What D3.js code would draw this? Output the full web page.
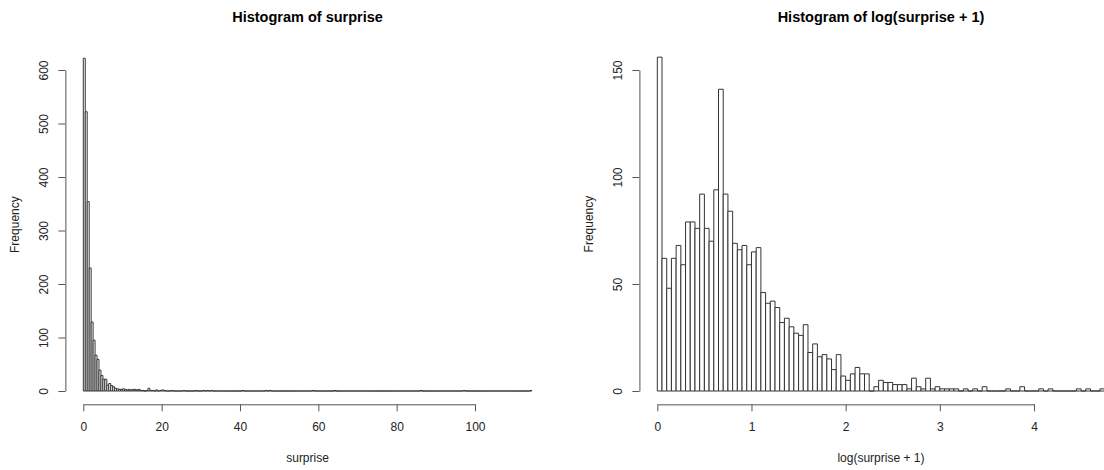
<!DOCTYPE html>
<html>
<head>
<meta charset="utf-8">
<script src="https://cdn.jsdelivr.net/npm/d3@7"></script>
<style>
  body { margin: 0; background: #fff; }
  svg { display: block; font-family: "Liberation Sans", Arial, sans-serif; }
  .tick text { font-size: 12px; fill: #222; }
  .axis path, .axis line { stroke: #555; stroke-width: 1; fill: none; }
  .bar { fill: #fff; stroke: #333; stroke-width: 1; }
  .title { font-size: 14.5px; font-weight: bold; fill: #000; }
  .label { font-size: 12px; fill: #222; }
</style>
</head>
<body>
<svg id="chart" width="1104" height="470"></svg>
<script>
// left histogram: surprise, bins of 0.5 from 0 to 114.5
const leftBinWidth = 0.5;
const leftCounts = [
  622, 522, 354, 230, 129, 95, 67, 59, 39, 29, 22, 22, 11, 14, 10, 8, 5, 4, 3, 3,
  4, 3, 2, 3, 2, 3, 3, 2, 3, 1, 1, 0, 1, 5, 1, 1, 0, 2, 0, 1,
  2, 1, 0, 0, 0, 1, 0, 0, 0, 0, 0, 1, 0, 0, 0, 0, 0, 1, 0, 0,
  0, 1, 0, 1, 0, 1, 0, 0, 0, 0, 0, 0, 0, 0, 0, 0, 0, 0, 0, 0,
  0, 1, 0, 0, 0, 0, 0, 0, 0, 0, 0, 0, 0, 1, 0, 1, 0, 0, 0, 0,
  0, 0, 0, 0, 0, 0, 0, 0, 0, 0, 0, 0, 0, 0, 0, 0, 0, 1, 0, 0,
  0, 0, 0, 0, 0, 0, 0, 0, 1, 0, 0, 0, 0, 0, 0, 0, 0, 0, 0, 0,
  0, 0, 0, 0, 0, 0, 0, 0, 0, 0, 0, 0, 0, 0, 0, 0, 0, 0, 0, 0,
  0, 0, 0, 0, 0, 0, 0, 0, 0, 0, 0, 0, 1, 0, 0, 0, 0, 0, 0, 0,
  0, 0, 0, 0, 0, 0, 0, 0, 0, 0, 0, 0, 0, 0, 1, 0, 0, 0, 0, 0,
  0, 0, 0, 0, 0, 0, 0, 0, 0, 0, 0, 0, 0, 0, 0, 0, 0, 0, 0, 0,
  0, 0, 0, 0, 0, 0, 0, 0, 1
];
const leftXTicks = [0, 20, 40, 60, 80, 100];
const leftYTicks = [0, 100, 200, 300, 400, 500, 600];

// right histogram: log(surprise + 1), bins of 0.05 from 0 to 4.75
const rightBinWidth = 0.05;
const rightCounts = [
  156, 62, 48, 62, 68, 59, 79, 79, 76, 92, 76, 70, 94, 141, 92, 84, 69, 66, 68, 59,
  65, 67, 46, 41, 42, 39, 32, 34, 30, 27, 26, 31, 18, 22, 16, 17, 15, 10, 17, 7,
  5, 8, 11, 8, 8, 0, 2, 5, 4, 4, 3, 3, 3, 1, 6, 2, 1, 6, 1, 2,
  1, 1, 1, 1, 0, 1, 0, 1, 0, 2, 0, 0, 0, 0, 1, 0, 0, 2, 0, 0,
  0, 1, 0, 1, 0, 0, 0, 0, 0, 1, 0, 1, 0, 0, 1
];
const rightXTicks = [0, 1, 2, 3, 4];
const rightYTicks = [0, 50, 100, 150];

function translation(x, y) {
  return 'translate(' + x + ',' + y + ')';
}

const svg = d3.select('#chart');

function histogram(opts) {
  const bins = opts.counts.map((c, i) => ({ x0: i * opts.binWidth, x1: (i + 1) * opts.binWidth, n: c }));
  const lo = 0, hi = bins.length * opts.binWidth;
  const ext = (hi - lo) * 0.04;

  const x = d3.scaleLinear().domain([opts.xDom[0], opts.xDom[1]]).range(opts.xRange);
  const y = d3.scaleLinear().domain([0, opts.yTicks[opts.yTicks.length - 1]]).range([391, 70]);

  const left = x(lo - ext), right = x(hi + ext);
  const top = y(d3.max(opts.counts) * 1.04), bottom = y(-d3.max(opts.counts) * 0.04);
  const g = svg.append('g');

  // bars as closed paths, so empty bins still leave a line on the baseline
  g.selectAll('path.bar')
    .data(bins)
    .enter().append('path')
    .attr('class', 'bar')
    .attr('d', d => {
      const p = d3.path();
      p.moveTo(x(d.x0), y(0));
      p.lineTo(x(d.x0), y(d.n));
      p.lineTo(x(d.x1), y(d.n));
      p.lineTo(x(d.x1), y(0));
      p.closePath();
      return p.toString();
    });

  // x axis, from first to last tick like R
  const xt = opts.xTicks;
  const xa = x.copy().domain([xt[0], xt[xt.length - 1]]).range([x(xt[0]), x(xt[xt.length - 1])]);
  g.append('g')
    .attr('class', 'axis')
    .attr('transform', translation(0, bottom))
    .call(d3.axisBottom(xa).tickValues(xt).tickSize(7).tickSizeOuter(0).tickPadding(6).tickFormat(d3.format('d')))
    .selectAll('text')
    .attr('dy', 0)
    .attr('y', 27);

  // y axis
  const yt = opts.yTicks;
  const ya = y.copy().domain([yt[0], yt[yt.length - 1]]).range([y(yt[0]), y(yt[yt.length - 1])]);
  g.append('g')
    .attr('class', 'axis')
    .attr('transform', translation(left, 0))
    .call(d3.axisLeft(ya).tickValues(yt).tickSize(7).tickSizeOuter(0).tickFormat(d3.format('d')))
    .selectAll('text')
    .attr('x', 0)
    .attr('dy', 0)
    .attr('text-anchor', 'middle')
    .attr('transform', 'translate(-17,0) rotate(-90)');

  g.selectAll('.axis .domain').attr('stroke', null);

  // title and labels
  g.append('text')
    .attr('class', 'title')
    .attr('x', (left + right) / 2)
    .attr('y', 21.5)
    .attr('text-anchor', 'middle')
    .text(opts.title);

  g.append('text')
    .attr('class', 'label')
    .attr('x', (left + right) / 2)
    .attr('y', 462)
    .attr('text-anchor', 'middle')
    .text(opts.xLabel);

  g.append('text')
    .attr('class', 'label')
    .attr('text-anchor', 'middle')
    .attr('transform', translation(left - 46, (top + bottom) / 2) + ' rotate(-90)')
    .text('Frequency');
}

histogram({
  counts: leftCounts, binWidth: leftBinWidth,
  xDom: [0, 100], xRange: [83.3, 475],
  xTicks: leftXTicks, yTicks: leftYTicks,
  title: 'Histogram of surprise', xLabel: 'surprise'
});

histogram({
  counts: rightCounts, binWidth: rightBinWidth,
  xDom: [0, 4], xRange: [657.3, 1034],
  xTicks: rightXTicks, yTicks: rightYTicks,
  title: 'Histogram of log(surprise + 1)', xLabel: 'log(surprise + 1)'
});
</script>
</body>
</html>
